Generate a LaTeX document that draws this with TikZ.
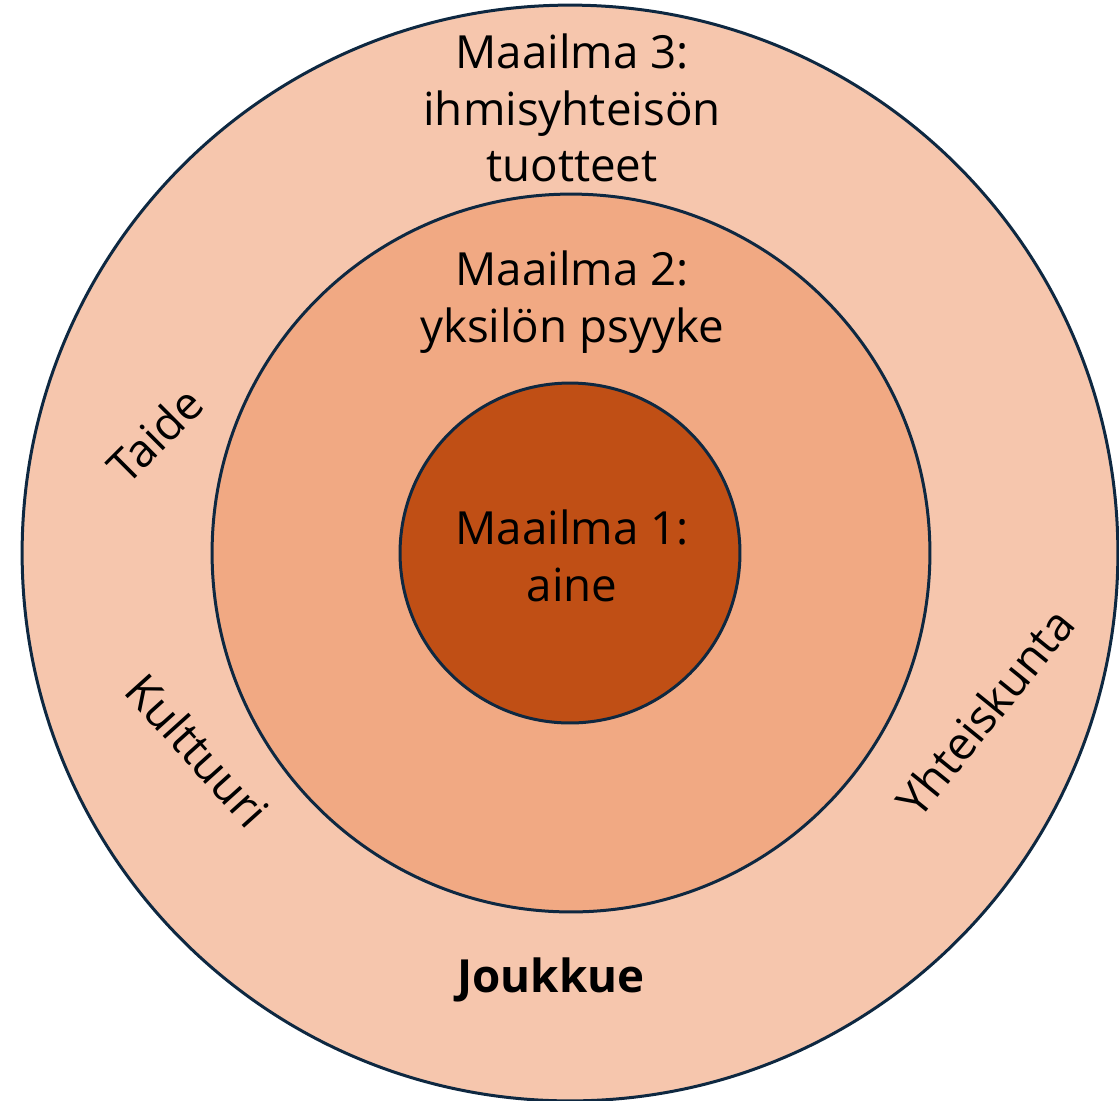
\documentclass[tikz,border=0pt]{standalone}
\usepackage{fontspec}
\setmainfont{Open Sans}
\usepackage{tikz}
\usetikzlibrary{positioning}

\definecolor{ringline}{HTML}{0E2841}
\definecolor{world3}{HTML}{F6C6AD}
\definecolor{world2}{HTML}{F1A983}
\definecolor{world1}{HTML}{C04F15}

\tikzset{
    ring/.style={circle, draw=ringline, line width=0.06cm, inner sep=0pt},
    label/.style={align=center, font=\fontsize{26}{32.3}\selectfont, text=black}
}

\begin{document}
\begin{tikzpicture}[x=0.02cm, y=-0.02cm]
    \useasboundingbox (0,0) rectangle (1119,1100);

    \node[ring, fill=world3, minimum size=21.92cm] (outer) at (570,553) {};
    \node[ring, fill=world2, minimum size=14.36cm] (middle) at (571,553) {};
    \node[ring, fill=world1, minimum size=6.8cm] (inner) at (570,553) {};

    \node[label] (w3) at (572,108) {Maailma 3:\\ihmisyhteisön\\tuotteet};
    \node[label] (w2) at (572,302) {Maailma 2:\\yksilön psyyke};
    \node[label] (w1) at (572,556) {Maailma 1:\\aine};

    % ring words
    \node[label, rotate=45] (taide) at (155,435) {Taide};
    \node[label, rotate=-48] (kulttuuri) at (198,750) {Kulttuuri};
    \node[label, rotate=51] (yhteiskunta) at (985,712) {Yhteiskunta};
    \node[label, font=\fontsize{26}{32.3}\selectfont\bfseries] (joukkue) at (551,980) {Joukkue};

\end{tikzpicture}
\end{document}
